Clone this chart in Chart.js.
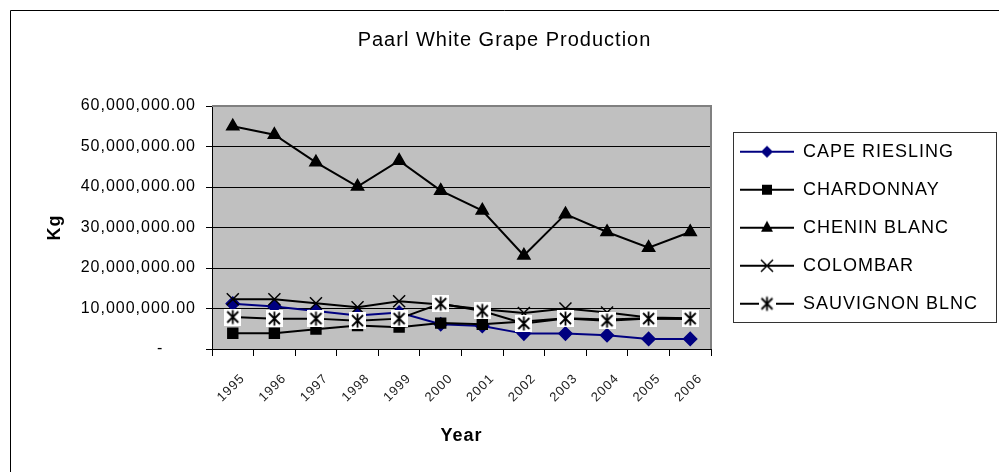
<!DOCTYPE html>
<html>
<head>
<meta charset="utf-8">
<script src="https://cdn.jsdelivr.net/npm/chart.js@4.4.1/dist/chart.umd.min.js"></script>
<style>
  html, body { margin: 0; padding: 0; background: #fff; }
  #wrap { position: relative; width: 999px; height: 472px; }
</style>
</head>
<body>
<div id="wrap"><canvas id="grape-chart" width="999" height="472"></canvas></div>
<script>
// Paarl white grape production, Kg per year
const years = ['1995', '1996', '1997', '1998', '1999', '2000', '2001', '2002', '2003', '2004', '2005', '2006'];

const capeRiesling = [11200000, 10500000, 9400000, 8300000, 9000000, 6100000, 5700000, 3800000, 3800000, 3400000, 2500000, 2500000];
const chardonnay = [3900000, 3900000, 4900000, 5800000, 5400000, 6400000, 6100000, 6800000, 7600000, 7300000, 7600000, 7400000];
const cheninBlanc = [55000000, 52900000, 46100000, 40100000, 46500000, 39100000, 34200000, 23100000, 33300000, 28900000, 25000000, 28900000];
const colombar = [12300000, 12300000, 11300000, 10300000, 11800000, 11000000, 9800000, 8900000, 10000000, 9000000, 7800000, 7600000];
const sauvignonBlnc = [7900000, 7500000, 7500000, 7000000, 7500000, 11200000, 9400000, 6300000, 7500000, 7000000, 7500000, 7500000];

const yTicks = [0, 10000000, 20000000, 30000000, 40000000, 50000000, 60000000];

const NAVY = '#000080';
const FONT = '"Liberation Sans", Arial, sans-serif';

// excel style "star" marker: white box with an X and a vertical bar
function starMarker() {
  const c = document.createElement('canvas');
  c.width = 17;
  c.height = 17;
  const g = c.getContext('2d');
  g.fillStyle = '#fff';
  g.fillRect(0, 0, 17, 17);
  g.strokeStyle = '#000';
  g.lineWidth = 1.8;
  g.beginPath();
  g.moveTo(3, 3); g.lineTo(14, 14);
  g.moveTo(14, 3); g.lineTo(3, 14);
  g.moveTo(8.5, 1.5); g.lineTo(8.5, 15.5);
  g.stroke();
  return c;
}

// legend symbol: line with the marker in the middle
function legendIcon(color, kind) {
  const w = 54, h = 20, cx = 27, cy = 10;
  const c = document.createElement('canvas');
  c.width = w;
  c.height = h;
  const g = c.getContext('2d');
  g.strokeStyle = color;
  g.fillStyle = color;
  g.lineWidth = 2;
  g.beginPath();
  g.moveTo(0, cy); g.lineTo(w, cy);
  g.stroke();
  g.beginPath();
  if (kind === 'diamond') {
    g.moveTo(cx, cy - 6); g.lineTo(cx + 6, cy); g.lineTo(cx, cy + 6); g.lineTo(cx - 6, cy);
    g.closePath(); g.fill();
  } else if (kind === 'square') {
    g.fillRect(cx - 5, cy - 5, 10, 10);
  } else if (kind === 'triangle') {
    g.moveTo(cx, cy - 7); g.lineTo(cx + 6, cy + 4); g.lineTo(cx - 6, cy + 4);
    g.closePath(); g.fill();
  } else if (kind === 'x') {
    g.lineWidth = 1.5;
    g.moveTo(cx - 6, cy - 6); g.lineTo(cx + 6, cy + 6);
    g.moveTo(cx + 6, cy - 6); g.lineTo(cx - 6, cy + 6);
    g.stroke();
  } else if (kind === 'star') {
    g.drawImage(starMarker(), cx - 8.5, cy - 8.5);
  }
  return c;
}

const legendIcons = [
  legendIcon(NAVY, 'diamond'),
  legendIcon('#000', 'square'),
  legendIcon('#000', 'triangle'),
  legendIcon('#000', 'x'),
  legendIcon('#000', 'star'),
];

const frame = {
  id: 'frame',
  beforeLayout(chart) {
    // the spreadsheet renders its text a little wider than plain Arial
    chart.ctx.letterSpacing = '1px';
  },
  beforeDraw(chart) {
    const { ctx, chartArea: a } = chart;
    ctx.letterSpacing = '1px';
    ctx.save();
    ctx.fillStyle = '#fff';
    ctx.fillRect(0, 0, chart.width, chart.height);
    ctx.strokeStyle = '#000';
    ctx.lineWidth = 1;
    ctx.beginPath();
    ctx.moveTo(10.5, chart.height);
    ctx.lineTo(10.5, 10.5);
    ctx.lineTo(chart.width, 10.5);
    ctx.stroke();
    ctx.fillStyle = '#c0c0c0';
    ctx.fillRect(a.left, a.top, a.right - a.left, a.bottom - a.top);
    ctx.restore();
  },
  beforeDatasetsDraw(chart) {
    const { ctx, chartArea: a } = chart;
    ctx.save();
    ctx.strokeStyle = '#808080';
    ctx.lineWidth = 2;
    ctx.beginPath();
    ctx.moveTo(a.left, a.top);
    ctx.lineTo(a.right, a.top);
    ctx.lineTo(a.right, a.bottom);
    ctx.stroke();
    ctx.restore();
  },
  afterLayout(chart) {
    // pin title and legend where the spreadsheet put them
    chart.titleBlock.left = 10;
    chart.titleBlock.right = 999;
    const lg = chart.legend;
    lg.left = 720;
    lg.width = 279;
    lg.right = 999;
    lg.top = 122.7;
    lg.bottom = 460;
    lg.height = lg.bottom - lg.top;
  },
  afterDraw(chart) {
    const ctx = chart.ctx;
    ctx.save();
    ctx.strokeStyle = '#333';
    ctx.lineWidth = 1;
    ctx.strokeRect(733.5, 132.5, 263, 190);
    ctx.restore();
  },
};

function series(label, data, color, pointStyle, radius, order) {
  return {
    label: label,
    data: data,
    borderColor: color,
    backgroundColor: color,
    borderWidth: 2,
    pointStyle: pointStyle,
    pointRadius: radius,
    pointHoverRadius: radius,
    pointBackgroundColor: color,
    pointBorderColor: color,
    pointBorderWidth: 1.5,
    tension: 0,
    fill: false,
    order: order,
  };
}

const ctx = document.getElementById('grape-chart');

new Chart(ctx, {
  type: 'line',
  data: {
    labels: years,
    datasets: [
      series('CAPE RIESLING', capeRiesling, NAVY, 'rectRot', 6.5, 5),
      series('CHARDONNAY', chardonnay, '#000', 'rect', 7, 4),
      series('CHENIN BLANC', cheninBlanc, '#000', 'triangle', 7, 3),
      series('COLOMBAR', colombar, '#000', 'crossRot', 8.5, 2),
      series('SAUVIGNON BLNC', sauvignonBlnc, '#000', starMarker(), 8, 1),
    ],
  },
  options: {
    responsive: false,
    animation: false,
    events: [],
    font: { family: FONT },
    layout: { padding: { left: 11, right: 88, top: 0, bottom: 0 } },
    scales: {
      x: {
        offset: true,
        grid: { offset: true, drawOnChartArea: false, tickLength: 7, color: '#000' },
        border: { color: '#000', width: 1 },
        ticks: {
          minRotation: 45,
          maxRotation: 45,
          color: '#222',
          padding: 15,
          labelOffset: 10,
          font: { family: FONT, size: 13 },
        },
        title: {
          display: true,
          text: 'Year',
          color: '#000',
          font: { family: FONT, size: 18, weight: 'bold' },
          padding: { top: 0, bottom: 25 },
        },
        afterFit: (scale) => { scale.height = 123; },
      },
      y: {
        min: 0,
        max: 60000000,
        afterBuildTicks: (scale) => { scale.ticks = yTicks.map((v) => ({ value: v })); },
        grid: { color: '#000', lineWidth: 1, tickLength: 6, tickColor: '#000' },
        border: { color: '#000', width: 1 },
        ticks: {
          color: '#000',
          padding: 10,
          font: { family: FONT, size: 16 },
          callback: function (value) {
            if (value === 0) {
              return '-      ';
            }
            return value.toLocaleString('en-US', { minimumFractionDigits: 2, maximumFractionDigits: 2 });
          },
        },
        title: {
          display: true,
          text: 'Kg',
          color: '#000',
          font: { family: FONT, size: 18, weight: 'bold' },
          padding: { top: 33, bottom: 0 },
        },
        afterFit: (scale) => { scale.width = 201; },
      },
    },
    plugins: {
      title: {
        display: true,
        text: 'Paarl White Grape Production',
        color: '#000',
        font: { family: FONT, size: 20, weight: 'normal' },
        padding: { top: 28, bottom: 54 },
      },
      legend: {
        display: true,
        position: 'right',
        align: 'start',
        maxWidth: 200,
        labels: {
          usePointStyle: true,
          pointStyleWidth: 54,
          padding: 20,
          color: '#000',
          font: { family: FONT, size: 18 },
          generateLabels: (chart) => chart.data.datasets.map((ds, i) => ({
            text: ds.label,
            pointStyle: legendIcons[i],
            datasetIndex: i,
            fillStyle: ds.borderColor,
            strokeStyle: ds.borderColor,
            lineWidth: 0,
            hidden: false,
            fontColor: '#000',
          })),
        },
      },
      tooltip: { enabled: false },
    },
  },
  plugins: [frame],
});
</script>
</body>
</html>
